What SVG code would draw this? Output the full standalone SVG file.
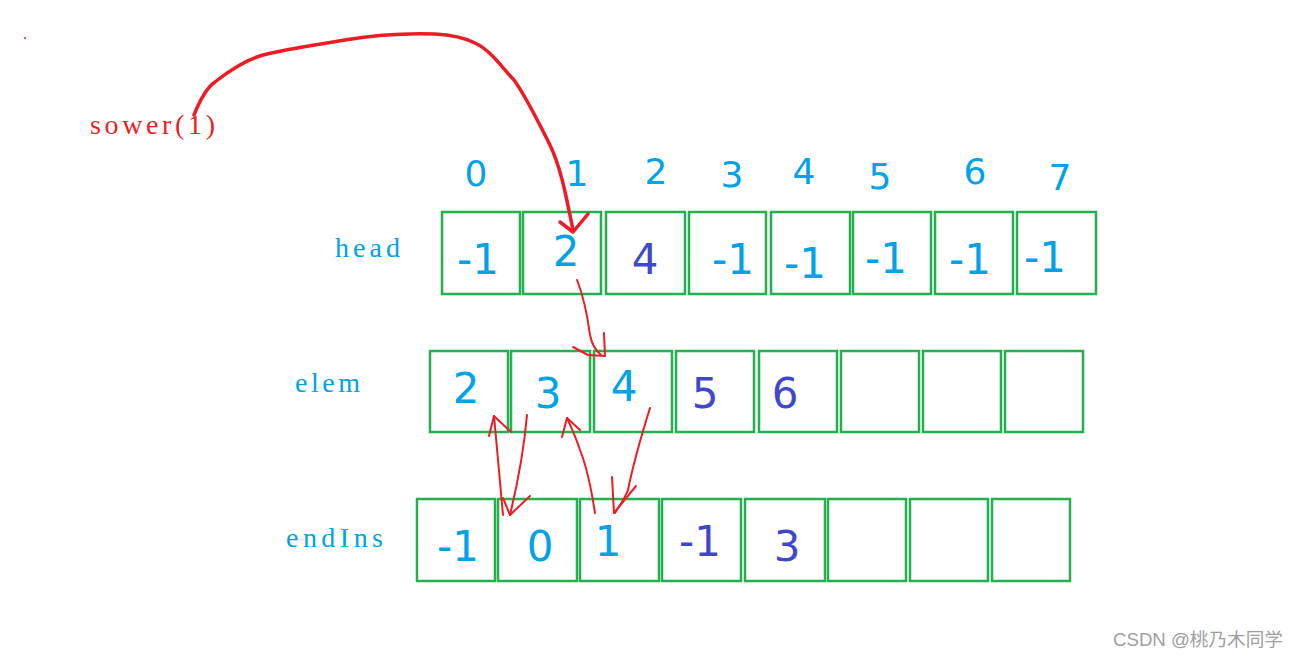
<svg xmlns="http://www.w3.org/2000/svg" width="1298" height="659" viewBox="0 0 1298 659">
<style>
.cell{fill:#fff;stroke:#22b14c;stroke-width:2.5}
.lb{font-family:"Liberation Serif",serif;font-size:28px;fill:#00a2e8}
.d{font-family:"DejaVu Sans",sans-serif;font-size:42px;text-anchor:middle}
.c{fill:#00a2e8}
.k{fill:#3f48cc}
.ix{font-family:"DejaVu Sans",sans-serif;font-size:36px;text-anchor:middle;fill:#00a2e8}
.r{fill:none;stroke:#ed1c24;stroke-width:2;stroke-linecap:round;stroke-linejoin:round}
.rb{fill:none;stroke:#ed1c24;stroke-width:3.5;stroke-linecap:round;stroke-linejoin:round}
</style>
<rect width="1298" height="659" fill="#fff"/>
<circle cx="25" cy="38" r="1" fill="#ed1c24"/>
<text x="90" y="134" font-family="Liberation Serif,serif" font-size="28" fill="#ed1c24" textLength="125" lengthAdjust="spacing">sower(1)</text>
<g id="indices">
<text class="ix" x="476" y="186">0</text>
<text class="ix" x="577" y="186">1</text>
<text class="ix" x="656" y="184">2</text>
<text class="ix" x="732" y="187">3</text>
<text class="ix" x="804" y="184">4</text>
<text class="ix" x="880" y="189">5</text>
<text class="ix" x="975" y="184">6</text>
<text class="ix" x="1060" y="190">7</text>
</g>
<g id="head">
<text class="lb" x="335" y="257" textLength="65" lengthAdjust="spacing">head</text>
<rect class="cell" x="442" y="212" width="78" height="82"/>
<rect class="cell" x="523" y="212" width="78" height="82"/>
<rect class="cell" x="606" y="212" width="79" height="82"/>
<rect class="cell" x="689" y="212" width="77" height="82"/>
<rect class="cell" x="771" y="212" width="79" height="82"/>
<rect class="cell" x="853" y="212" width="78" height="82"/>
<rect class="cell" x="935" y="212" width="78" height="82"/>
<rect class="cell" x="1017" y="212" width="79" height="82"/>
<text class="d c" x="478" y="274">-1</text>
<text class="d c" x="566" y="266">2</text>
<text class="d k" x="645" y="274">4</text>
<text class="d c" x="733" y="274">-1</text>
<text class="d c" x="805" y="278">-1</text>
<text class="d c" x="886" y="273">-1</text>
<text class="d c" x="970" y="274">-1</text>
<text class="d c" x="1045" y="272">-1</text>
</g>
<g id="elem">
<text class="lb" x="295" y="392" textLength="65" lengthAdjust="spacing">elem</text>
<rect class="cell" x="430" y="351" width="78" height="81"/>
<rect class="cell" x="511" y="351" width="79" height="81"/>
<rect class="cell" x="594" y="351" width="78" height="81"/>
<rect class="cell" x="676" y="351" width="78" height="81"/>
<rect class="cell" x="759" y="351" width="78" height="81"/>
<rect class="cell" x="841" y="351" width="78" height="81"/>
<rect class="cell" x="923" y="351" width="78" height="81"/>
<rect class="cell" x="1005" y="351" width="78" height="81"/>
<text class="d c" x="466" y="403">2</text>
<text class="d c" x="548" y="408">3</text>
<text class="d c" x="624" y="401">4</text>
<text class="d k" x="705" y="408">5</text>
<text class="d k" x="785" y="408">6</text>
</g>
<g id="endIns">
<text class="lb" x="286" y="547" textLength="97" lengthAdjust="spacing">endIns</text>
<rect class="cell" x="417" y="499" width="78" height="82"/>
<rect class="cell" x="498" y="499" width="79" height="82"/>
<rect class="cell" x="580" y="499" width="79" height="82"/>
<rect class="cell" x="662" y="499" width="79" height="82"/>
<rect class="cell" x="745" y="499" width="80" height="82"/>
<rect class="cell" x="828" y="499" width="78" height="82"/>
<rect class="cell" x="910" y="499" width="78" height="82"/>
<rect class="cell" x="992" y="499" width="78" height="82"/>
<text class="d c" x="458" y="561">-1</text>
<text class="d c" x="540" y="561">0</text>
<text class="d c" x="608" y="556">1</text>
<text class="d k" x="700" y="556">-1</text>
<text class="d k" x="787" y="561">3</text>
</g>
<g id="connectors">
<path class="rb" d="M194,115 C200,100 206,88 215,82 C230,70 245,60 263,55 C290,48 316,45 345,40 C375,35 405,33 435,34 C455,35 465,38 475,43 C490,50 500,65 514,80 C525,95 540,125 549,143 C560,165 565,190 573,230"/>
<path class="rb" d="M560,222 L573,232 L588,214"/>
<path class="r" d="M577,280 C585,300 588,320 590,335 C592,345 595,350 601,355"/>
<path class="r" d="M573,347 L588,355 L605,356 L604,333"/>
<path class="r" d="M527,415 C524,450 516,490 510,515"/>
<path class="r" d="M503,498 L510,515 L530,496"/>
<path class="r" d="M503,515 C500,480 497,450 494,416"/>
<path class="r" d="M489,436 L494,416 L511,432"/>
<path class="r" d="M595,513 C590,480 584,460 580,450 C575,435 570,425 567,418"/>
<path class="r" d="M562,437 L567,418 L580,430"/>
<path class="r" d="M650,408 C640,440 632,470 628,490 C624,500 618,508 615,513"/>
<path class="r" d="M612,477 L614,513 L636,486"/>
</g>
<text x="1113" y="646" font-family="Liberation Sans,Noto Sans CJK SC,sans-serif" font-size="18" fill="#a0a0a0" textLength="170" lengthAdjust="spacingAndGlyphs">CSDN @桃乃木同学</text>
</svg>
